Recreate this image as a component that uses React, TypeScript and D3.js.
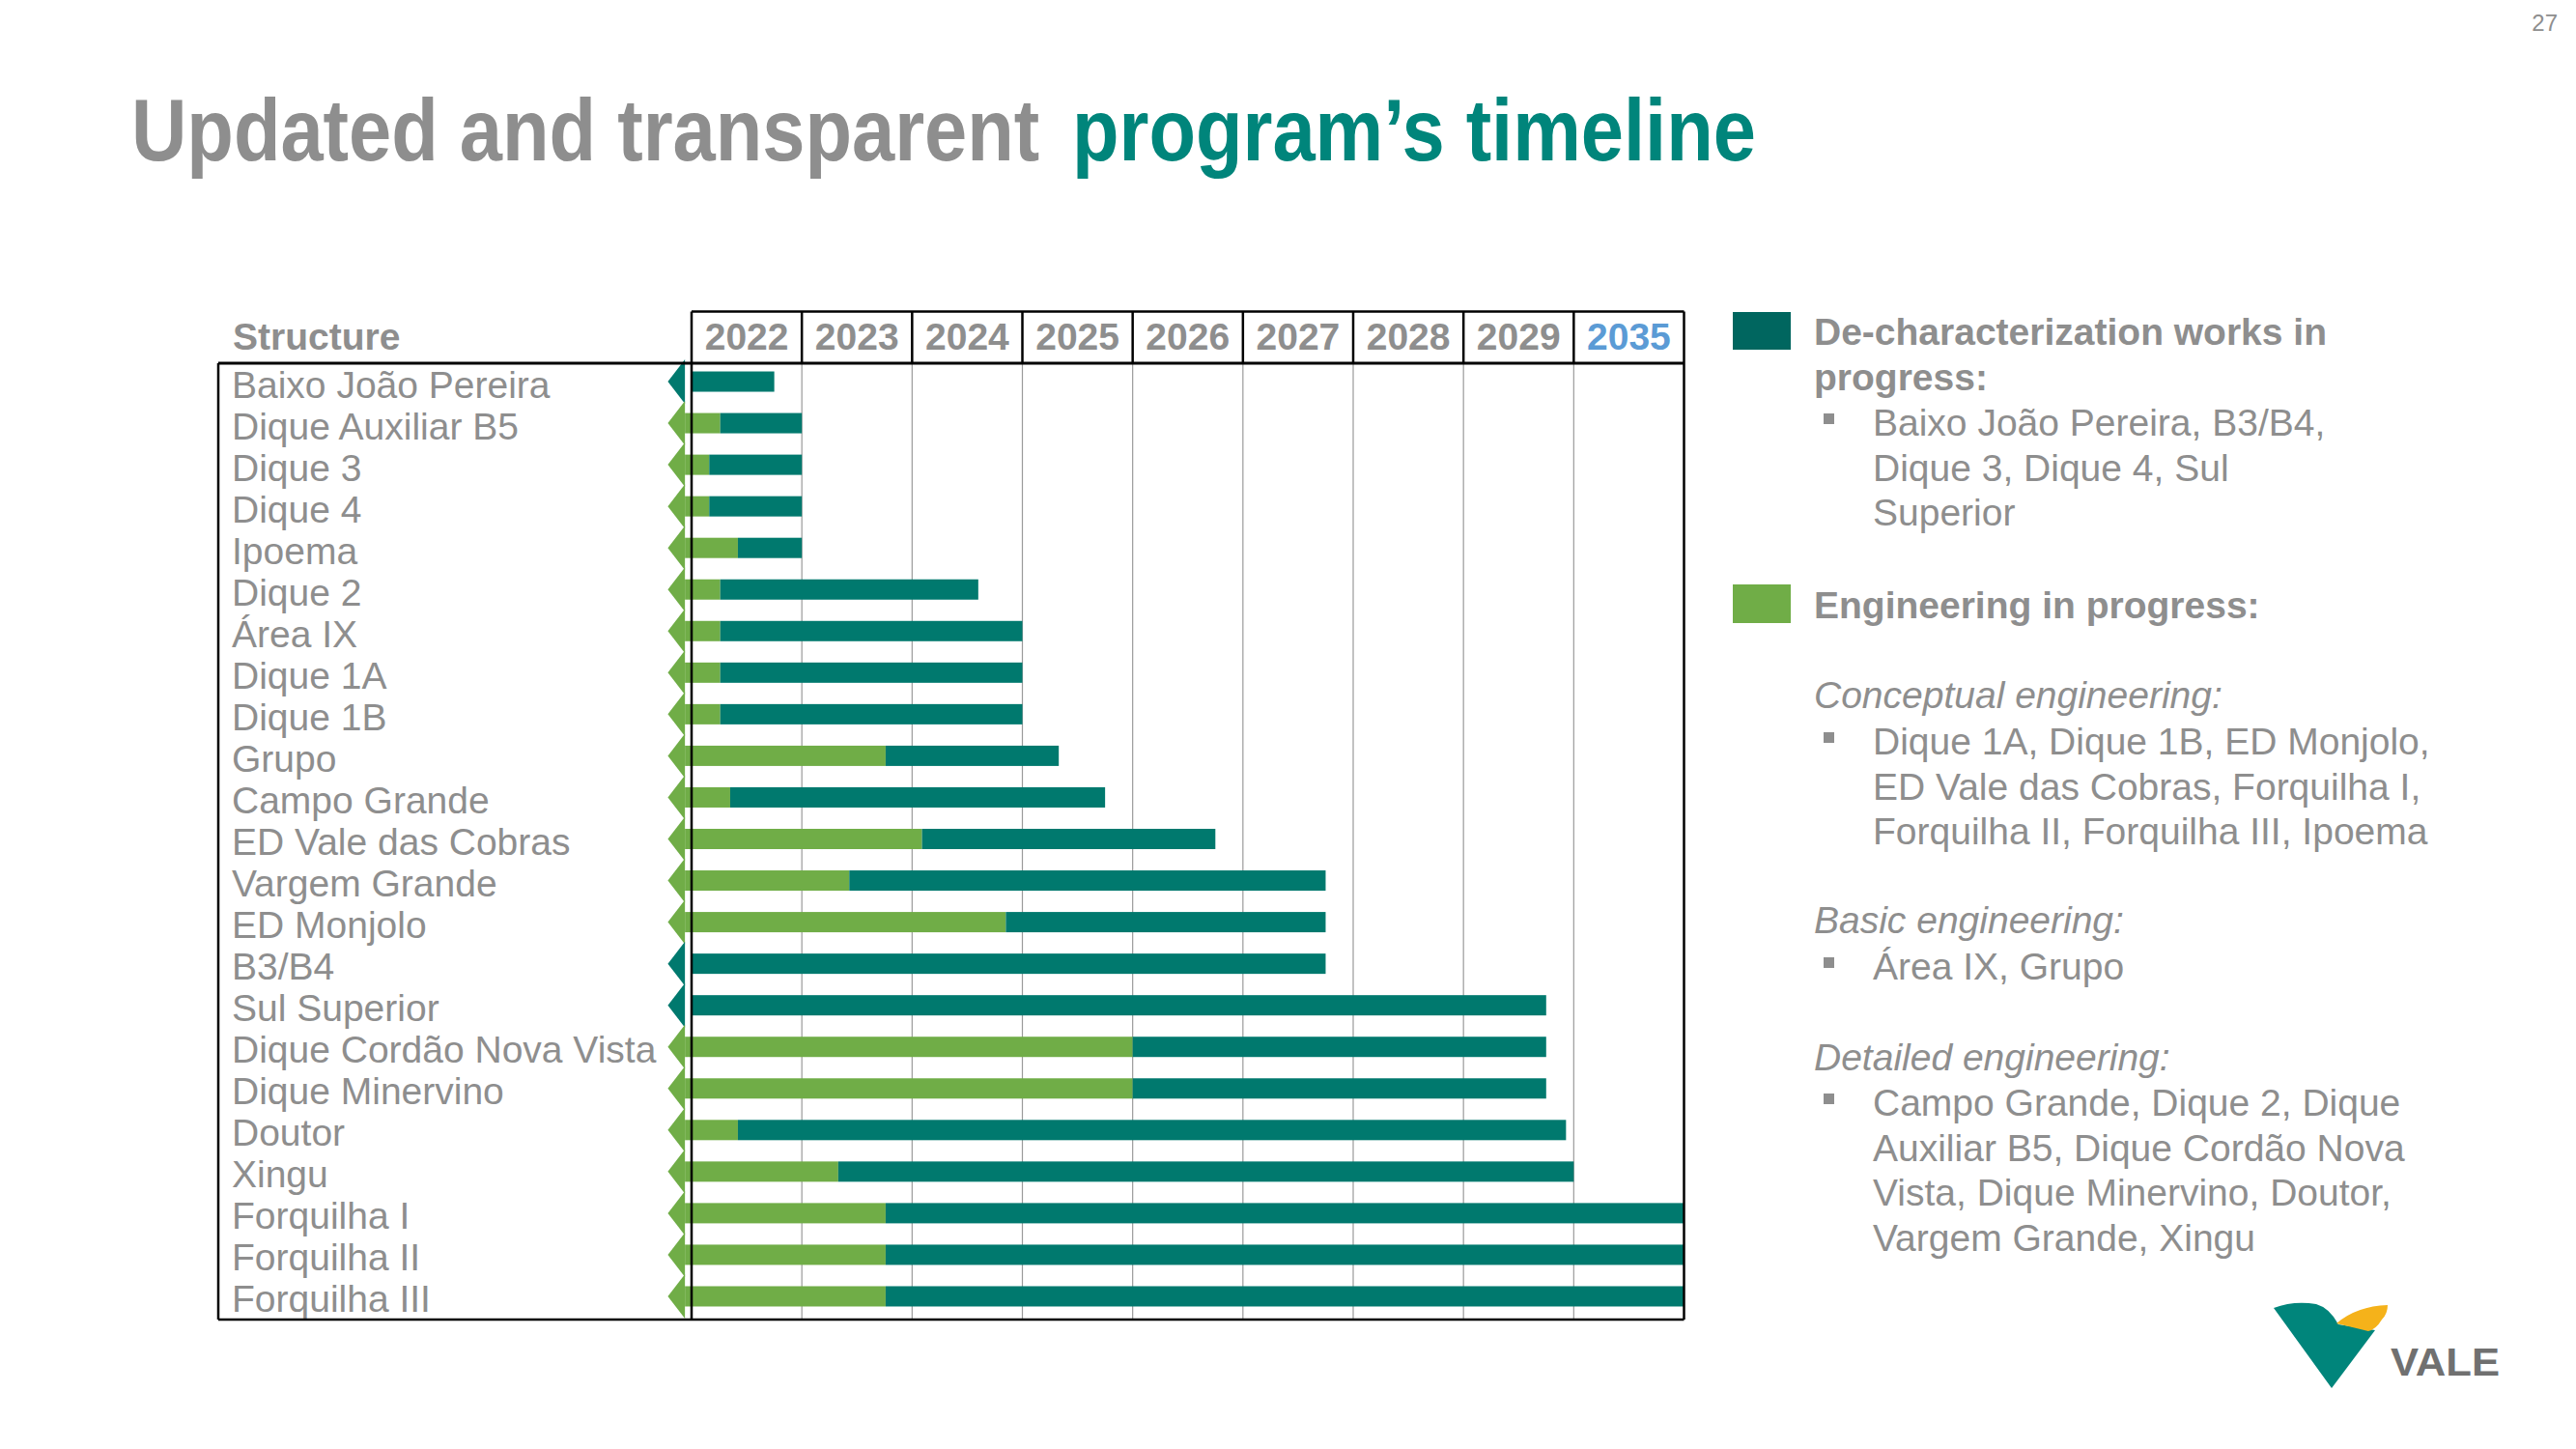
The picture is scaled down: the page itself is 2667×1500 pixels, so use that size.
import React, { useEffect } from "react";
import * as d3 from "d3";

// ---- data ----
const years = ["2022", "2023", "2024", "2025", "2026", "2027", "2028", "2029", "2035"];
const structures = [
  "Baixo João Pereira",
  "Dique Auxiliar B5",
  "Dique 3",
  "Dique 4",
  "Ipoema",
  "Dique 2",
  "Área IX",
  "Dique 1A",
  "Dique 1B",
  "Grupo",
  "Campo Grande",
  "ED Vale das Cobras",
  "Vargem Grande",
  "ED Monjolo",
  "B3/B4",
  "Sul Superior",
  "Dique Cordão Nova Vista",
  "Dique Minervino",
  "Doutor",
  "Xingu",
  "Forquilha I",
  "Forquilha II",
  "Forquilha III",
];
// position along the year columns (0 = start of 2022 column, 9 = end of 2035 column)
const engineeringEnd = [0, 0.26, 0.16, 0.16, 0.42, 0.26, 0.26, 0.26, 0.26, 1.76, 0.35, 2.09, 1.43, 2.85, 0, 0, 4.0, 4.0, 0.42, 1.33, 1.76, 1.76, 1.76];
const worksEnd = [0.75, 1, 1, 1, 1, 2.6, 3, 3, 3, 3.33, 3.75, 4.75, 5.75, 5.75, 5.75, 7.75, 7.75, 7.75, 7.93, 8, 9, 9, 9];
const barStart = -0.06;
const arrowTip = -0.215;

const legendWorksTitle = ["De-characterization works in", "progress:"];
const legendWorksItems = ["Baixo João Pereira, B3/B4,", "Dique 3, Dique 4, Sul", "Superior"];
const legendEngTitle = "Engineering in progress:";
const conceptualItems = ["Dique 1A, Dique 1B, ED Monjolo,", "ED Vale das Cobras, Forquilha I,", "Forquilha II, Forquilha III, Ipoema"];
const basicItems = ["Área IX, Grupo"];
const detailedItems = ["Campo Grande, Dique 2, Dique", "Auxiliar B5, Dique Cordão Nova", "Vista, Dique Minervino, Doutor,", "Vargem Grande, Xingu"];

// ---- styles ----
const TEAL = "#00796E";
const TEAL_DARK = "#00665F";
const GREEN = "#70AD47";
const GRAY = "#8E8E8E";
const TITLE_TEAL = "#00857B";
const BLUE = "#5B9BD5";
const FONT = "'Liberation Sans', Arial, Helvetica, sans-serif";

export default function App() {
  useEffect(() => {
    document.body.style.margin = "0";
  }, []);

  const W = 2667;
  const H = 1500;
  const tableLeft = 716;
  const tableRight = 1743.5;
  const labelLeft = 226;
  const headerTop = 322.5;
  const bodyTop = 376;
  const bodyBottom = 1366;

  const x = d3.scaleLinear().domain([0, years.length]).range([tableLeft, tableRight]);
  const y = d3.scaleBand<string>().domain(structures).range([bodyTop, bodyBottom]);
  const barH = 21;
  const headH = 46;
  const barShift = -2.5;

  const rows = structures.map((s, i) => ({ s, eng: engineeringEnd[i], works: worksEnd[i] }));

  const legendX = 1878;
  const bulletX = 1888;
  const itemX = 1939;
  const lineH = 46.5;
  const fs = 39;

  return (
    <svg width={W} height={H} viewBox={`0 0 ${W} ${H}`} style={{ display: "block", background: "#fff" }}>
      {/* page number */}
      <text x={2648} y={32} textAnchor="end" fontFamily={FONT} fontSize={24} fill={GRAY}>27</text>

      {/* title */}
      <text transform="translate(136,166) scale(0.883,1)" fontFamily={FONT} fontWeight="bold" fontSize={90} fill={GRAY}>
        Updated and transparent
      </text>
      <text transform="translate(1110,166) scale(0.883,1)" fontFamily={FONT} fontWeight="bold" fontSize={90} fill={TITLE_TEAL}>
        program’s timeline
      </text>

      {/* body grid lines */}
      {years.slice(1).map((yr, i) => (
        <line key={"g" + yr} x1={x(i + 1)} x2={x(i + 1)} y1={bodyTop} y2={bodyBottom} stroke="#9A9A9A" strokeWidth={1.2} />
      ))}

      {/* bars */}
      {rows.map((r) => {
        const cy = (y(r.s) as number) + y.bandwidth() / 2 + barShift;
        const headColor = r.eng > 0 ? GREEN : TEAL;
        const arrow = d3.path();
        arrow.moveTo(x(arrowTip), cy);
        arrow.lineTo(x(barStart), cy - headH / 2);
        arrow.lineTo(x(barStart), cy + headH / 2);
        arrow.closePath();
        const tealFrom = Math.max(r.eng, barStart);
        return (
          <g key={r.s}>
            {r.eng > 0 && (
              <rect x={x(barStart)} y={cy - barH / 2} width={x(r.eng) - x(barStart)} height={barH} fill={GREEN} />
            )}
            <rect x={x(tealFrom)} y={cy - barH / 2} width={x(r.works) - x(tealFrom)} height={barH} fill={TEAL} />
            <path d={arrow.toString()} fill={headColor} />
          </g>
        );
      })}

      {/* row labels */}
      {structures.map((s) => (
        <text key={"l" + s} x={240} y={(y(s) as number) + y.bandwidth() / 2 + 14} fontFamily={FONT} fontSize={fs} fill={GRAY}>
          {s}
        </text>
      ))}

      {/* header */}
      <text x={241} y={362} fontFamily={FONT} fontWeight="bold" fontSize={fs} fill={GRAY}>Structure</text>
      {years.map((yr, i) => (
        <text key={"h" + yr} x={(x(i) + x(i + 1)) / 2} y={362} textAnchor="middle" fontFamily={FONT} fontWeight="bold" fontSize={fs} fill={yr === "2035" ? BLUE : GRAY}>
          {yr}
        </text>
      ))}
      {/* header borders */}
      <line x1={tableLeft} x2={tableRight} y1={headerTop} y2={headerTop} stroke="#000" strokeWidth={2.5} />
      {years.slice(1).map((yr, i) => (
        <line key={"hb" + yr} x1={x(i + 1)} x2={x(i + 1)} y1={headerTop} y2={bodyTop} stroke="#000" strokeWidth={2.5} />
      ))}
      <line x1={labelLeft} x2={tableRight} y1={bodyTop} y2={bodyTop} stroke="#000" strokeWidth={3} />
      <line x1={labelLeft} x2={tableRight} y1={bodyBottom} y2={bodyBottom} stroke="#000" strokeWidth={2.5} />
      <line x1={labelLeft} x2={labelLeft} y1={bodyTop} y2={bodyBottom} stroke="#000" strokeWidth={2.5} />
      <line x1={tableRight} x2={tableRight} y1={headerTop} y2={bodyBottom} stroke="#000" strokeWidth={2.5} />
      <line x1={tableLeft} x2={tableLeft} y1={headerTop} y2={bodyBottom} stroke="#000" strokeWidth={2.5} />

      {/* legend */}
      <rect x={1794} y={323} width={60} height={39} fill={TEAL_DARK} />
      {legendWorksTitle.map((t, i) => (
        <text key={"wt" + i} x={legendX} y={357 + i * lineH} fontFamily={FONT} fontWeight="bold" fontSize={fs} fill={GRAY}>{t}</text>
      ))}
      {legendWorksItems.map((t, i) => (
        <g key={"wi" + i}>
          {i === 0 && <rect x={bulletX} y={428} width={11} height={11} fill={GRAY} />}
          <text x={itemX} y={451 + i * lineH} fontFamily={FONT} fontSize={fs} fill={GRAY}>{t}</text>
        </g>
      ))}

      <rect x={1794} y={605} width={60} height={40} fill={GREEN} />
      <text x={legendX} y={640} fontFamily={FONT} fontWeight="bold" fontSize={fs} fill={GRAY}>{legendEngTitle}</text>

      <text x={legendX} y={733} fontFamily={FONT} fontStyle="italic" fontSize={fs} fill={GRAY}>Conceptual engineering:</text>
      {conceptualItems.map((t, i) => (
        <g key={"ci" + i}>
          {i === 0 && <rect x={bulletX} y={758} width={11} height={11} fill={GRAY} />}
          <text x={itemX} y={781 + i * lineH} fontFamily={FONT} fontSize={fs} fill={GRAY}>{t}</text>
        </g>
      ))}

      <text x={legendX} y={966} fontFamily={FONT} fontStyle="italic" fontSize={fs} fill={GRAY}>Basic engineering:</text>
      {basicItems.map((t, i) => (
        <g key={"bi" + i}>
          {i === 0 && <rect x={bulletX} y={991} width={11} height={11} fill={GRAY} />}
          <text x={itemX} y={1014 + i * lineH} fontFamily={FONT} fontSize={fs} fill={GRAY}>{t}</text>
        </g>
      ))}

      <text x={legendX} y={1108} fontFamily={FONT} fontStyle="italic" fontSize={fs} fill={GRAY}>Detailed engineering:</text>
      {detailedItems.map((t, i) => (
        <g key={"di" + i}>
          {i === 0 && <rect x={bulletX} y={1132} width={11} height={11} fill={GRAY} />}
          <text x={itemX} y={1155 + i * lineH} fontFamily={FONT} fontSize={fs} fill={GRAY}>{t}</text>
        </g>
      ))}

      {/* logo */}
      <path d="M2354,1354 Q2375,1346 2398,1350 Q2412,1354 2421,1371 L2459,1377 L2414,1437 Z" fill="#00857B" />
      <path d="M2419,1370 Q2440,1352 2472,1351 Q2472,1360 2466,1366 Q2460,1376 2452,1378 Z" fill="#F5B21A" />
      <text x={2475} y={1424} fontFamily={FONT} fontWeight="bold" fontSize={40} fill="#707070" textLength={113} lengthAdjust="spacingAndGlyphs">VALE</text>
    </svg>
  );
}
